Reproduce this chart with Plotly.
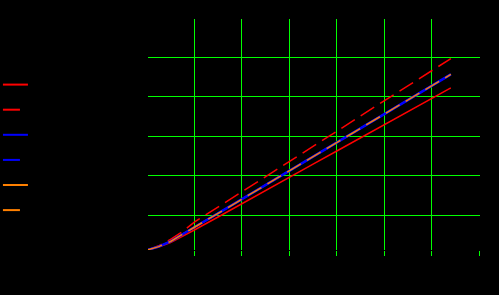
import plotly.graph_objects as go

# data
x_vals = [0, 0.25, 0.5, 0.75, 1, 1.5, 2, 2.5, 3, 3.5, 4, 4.5, 5, 5.5, 6, 6.4]
central = [0.11, 0.20, 0.33, 0.50, 0.69, 1.04, 1.40, 1.76, 2.12, 2.48, 2.85, 3.21, 3.57, 3.93, 4.29, 4.56]
upper = [0.11, 0.22, 0.38, 0.58, 0.82, 1.20, 1.58, 1.97, 2.35, 2.74, 3.12, 3.51, 3.89, 4.28, 4.66, 4.96]
lower = [0.11, 0.19, 0.30, 0.45, 0.62, 0.95, 1.29, 1.62, 1.95, 2.29, 2.62, 2.95, 3.29, 3.62, 3.95, 4.22]
x_ticks = [1, 2, 3, 4, 5, 6, 7]
y_ticks = [1, 2, 3, 4, 5]
names = ["lower", "upper", "A fit", "A test", "B fit", "B test"]

RED = "#ff0000"
BLUE = "#0000ff"
ORANGE = "#ff8000"
DASH = "16px,7px"
LEG_SOLID = "25px,30px"
LEG_DASH = "17px,30px"

fig = go.Figure()
# plotted traces (drawing order bottom to top)
fig.add_trace(go.Scatter(x=x_vals, y=lower, mode="lines", name=names[0], showlegend=False,
                         line=dict(color=RED, width=1.5)))
fig.add_trace(go.Scatter(x=x_vals, y=upper, mode="lines", name=names[1], showlegend=False,
                         line=dict(color=RED, width=1.5, dash=DASH)))
fig.add_trace(go.Scatter(x=x_vals, y=central, mode="lines", name=names[4], showlegend=False,
                         line=dict(color=ORANGE, width=1.5)))
fig.add_trace(go.Scatter(x=x_vals, y=central, mode="lines", name=names[2], showlegend=False,
                         line=dict(color=BLUE, width=2.5)))
fig.add_trace(go.Scatter(x=x_vals, y=central, mode="lines", name=names[3], showlegend=False,
                         line=dict(color=BLUE, width=2, dash=DASH)))
fig.add_trace(go.Scatter(x=x_vals, y=central, mode="lines", name=names[5], showlegend=False,
                         line=dict(color=ORANGE, width=1.5, dash=DASH)))

# legend entries
leg_styles = [(RED, LEG_SOLID), (RED, LEG_DASH), (BLUE, LEG_SOLID),
              (BLUE, LEG_DASH), (ORANGE, LEG_SOLID), (ORANGE, LEG_DASH)]
for nm, (col, ds) in zip(names, leg_styles):
    fig.add_trace(go.Scatter(x=[None], y=[None], mode="lines", name=nm, showlegend=True,
                             line=dict(color=col, width=2, dash=ds)))

fig.update_layout(
    width=499, height=295,
    paper_bgcolor="black", plot_bgcolor="black",
    margin=dict(l=148, r=19, t=19, b=45, autoexpand=False),
    font=dict(family="DejaVu Sans", color="black", size=12),
    showlegend=True,
    legend=dict(x=-0.452, xanchor="left", y=0.792, yanchor="top",
                bgcolor="rgba(0,0,0,0)", font=dict(color="black", size=17),
                itemclick=False),
)
fig.update_xaxes(range=[0.025, 7.014], tickvals=x_ticks, showgrid=True, gridcolor="#00ff00",
                 gridwidth=1, zeroline=False, showline=False, ticks="outside", ticklen=5,
                 tickcolor="#00ff00", tickwidth=1, tickfont=dict(color="black"))
fig.update_yaxes(range=[0.114, 5.962], tickvals=y_ticks, showgrid=True, gridcolor="#00ff00",
                 gridwidth=1, zeroline=False, showline=False, ticks="",
                 tickfont=dict(color="black"))

fig.write_html("out.html")
